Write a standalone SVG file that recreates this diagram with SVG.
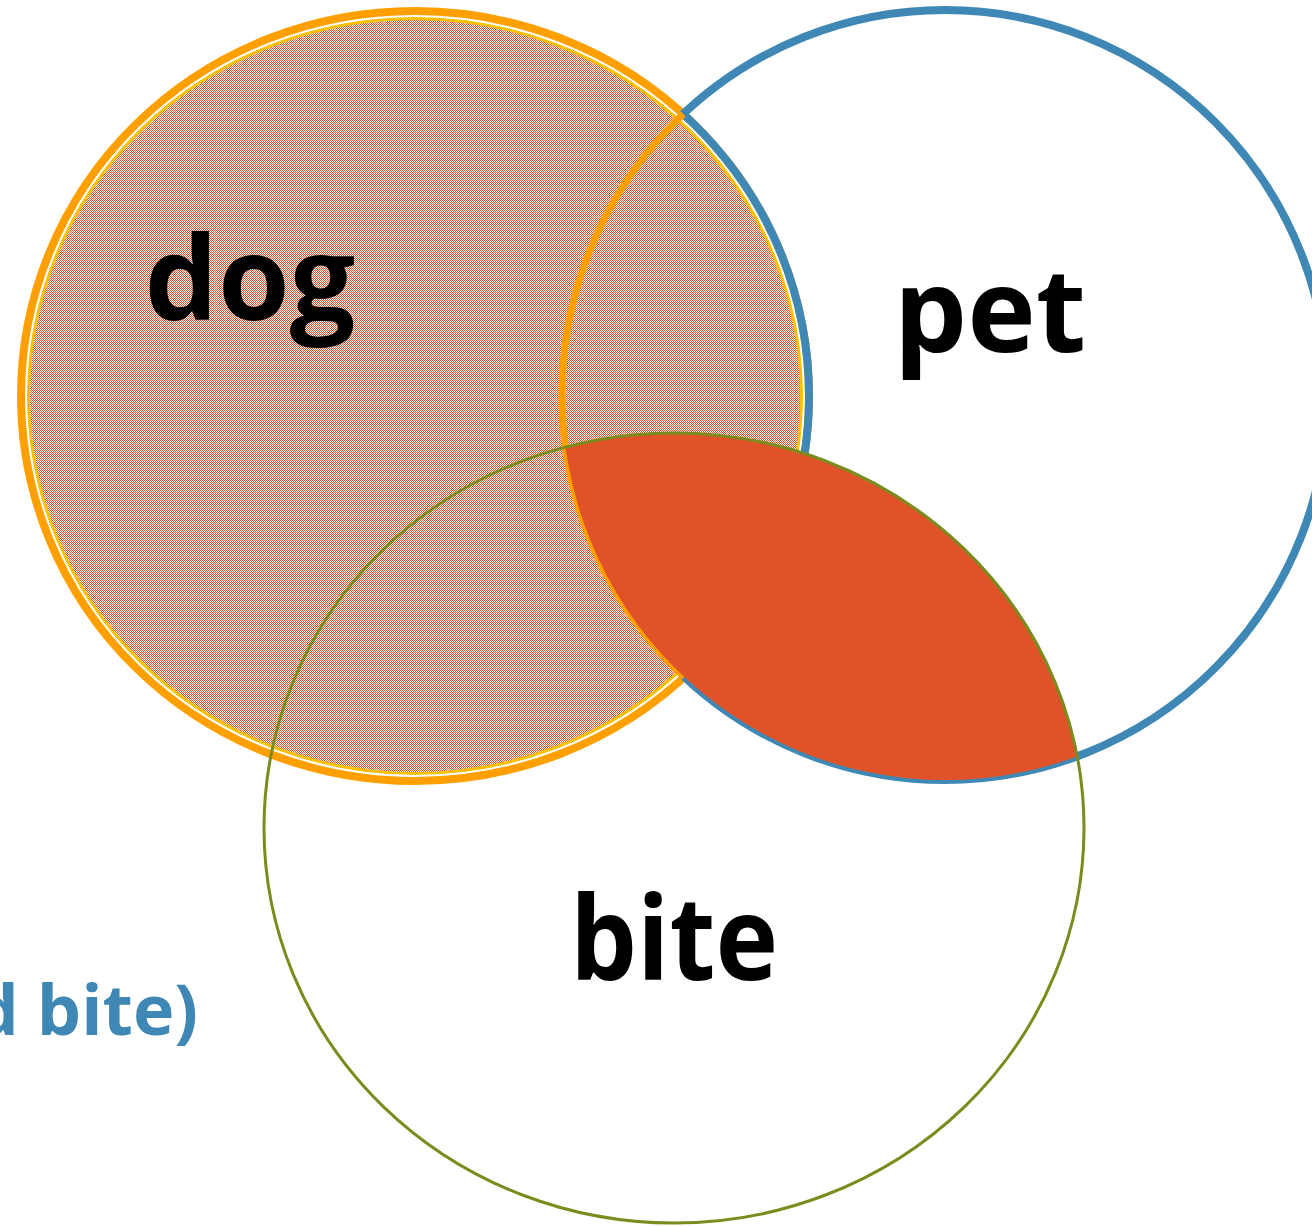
<svg xmlns="http://www.w3.org/2000/svg" width="1312" height="1226" viewBox="0 0 1312 1226">
  <defs>
    <pattern id="checker" x="0" y="0" width="2" height="2" patternUnits="userSpaceOnUse">
      <rect x="0" y="0" width="2" height="2" fill="#ffffff" shape-rendering="crispEdges"/>
      <rect x="0" y="0" width="1" height="1" fill="#D9502A" shape-rendering="crispEdges"/>
      <rect x="1" y="1" width="1" height="1" fill="#D9502A" shape-rendering="crispEdges"/>
    </pattern>
    <clipPath id="insidePet">
      <ellipse cx="945" cy="395" rx="383" ry="385"/>
    </clipPath>
    <clipPath id="insideDog">
      <ellipse cx="415" cy="396" rx="394" ry="385"/>
    </clipPath>
    <mask id="outsideDog" maskUnits="userSpaceOnUse" x="0" y="0" width="1312" height="1226">
      <rect x="0" y="0" width="1312" height="1226" fill="#fff"/>
      <ellipse cx="415" cy="396" rx="394" ry="385" fill="#000"/>
    </mask>
    <style>
      .lbl { font-family: "Open Sans", "Noto Sans", "Liberation Sans", sans-serif; font-weight: 700; }
      .big { font-size: 116px; fill: #000000; text-anchor: middle; }
      .note { font-size: 70px; fill: #3F88B5; text-anchor: end; }
    </style>
  </defs>

  <rect x="0" y="0" width="1312" height="1226" fill="#ffffff"/>

  <g id="dog">
    <ellipse cx="415" cy="396" rx="386.5" ry="377.5" fill="url(#checker)"/>
    <ellipse cx="415" cy="396" rx="386.5" ry="377.5" fill="none" stroke="#FFC000" stroke-width="3"/>
    <ellipse cx="415" cy="396" rx="389.2" ry="380.2" fill="none" stroke="#ffffff" stroke-width="2"/>
    <ellipse cx="415" cy="396" rx="394" ry="385" fill="none" stroke="#FFA000" stroke-width="8"/>
    <ellipse cx="415" cy="396" rx="394" ry="385" fill="none" stroke="#3F88B5" stroke-width="8" clip-path="url(#insidePet)"/>
  </g>

  <g id="pet">
    <ellipse cx="945" cy="395" rx="383" ry="385" fill="none" stroke="#3F88B5" stroke-width="8" mask="url(#outsideDog)"/>
    <ellipse cx="945" cy="395" rx="383" ry="385" fill="none" stroke="#FFA000" stroke-width="7" clip-path="url(#insideDog)"/>
  </g>

  <g id="pet-and-bite">
    <ellipse cx="674" cy="828" rx="410" ry="395" fill="#E05328" clip-path="url(#insidePet)"/>
  </g>

  <g id="bite">
    <ellipse cx="674" cy="828" rx="410" ry="395" fill="none" stroke="#7A8C1E" stroke-width="3"/>
  </g>

  <g id="connectors"></g>

  <g id="labels">
    <text class="lbl big" x="250" y="320">dog</text>
    <text class="lbl big" x="990" y="352">pet</text>
    <text class="lbl big" x="674" y="980" textLength="208" lengthAdjust="spacingAndGlyphs">bite</text>
    <text class="lbl note" x="198" y="1035">d bite)</text>
  </g>
</svg>
